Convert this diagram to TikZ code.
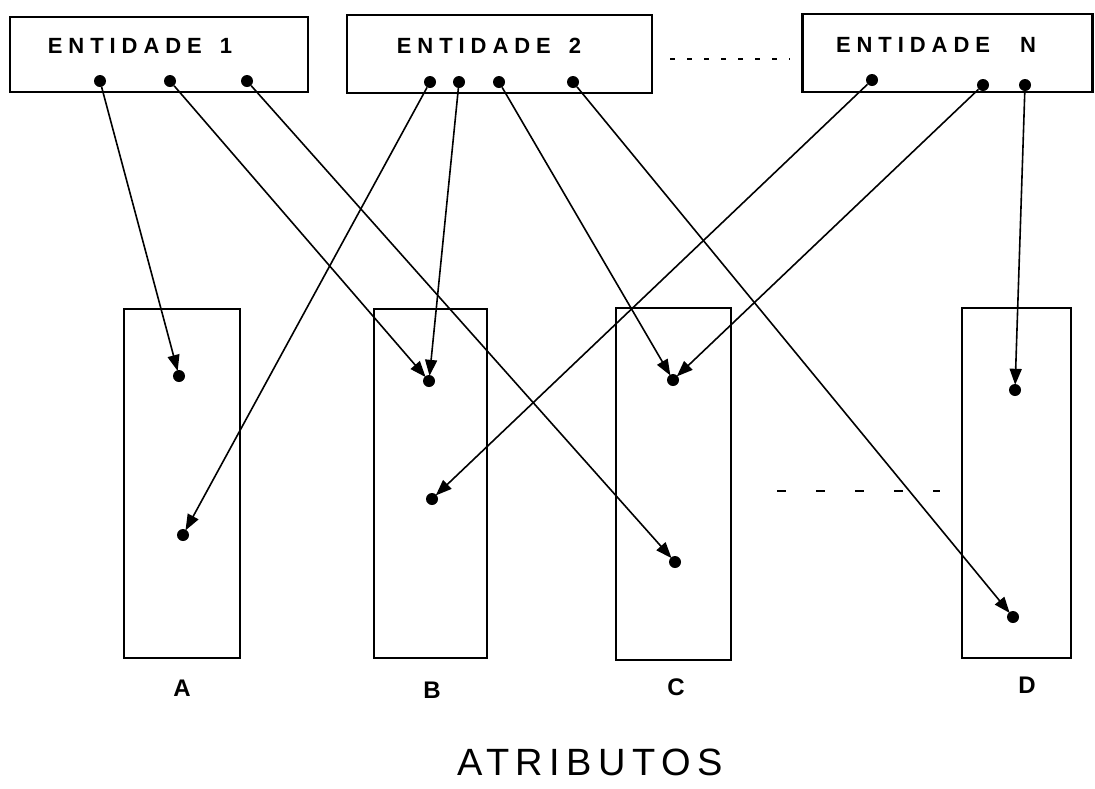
\documentclass[tikz,border=0pt]{standalone}
\usepackage{fontspec}
\usetikzlibrary{arrows.meta}
\newfontfamily\entfont[LetterSpace=27]{Liberation Sans}
\newfontfamily\lblfont{Liberation Sans}
\newfontfamily\titfont[LetterSpace=17]{Liberation Sans}
\tikzset{
  entbox/.style={draw, line width=2.6pt, rectangle, inner sep=0pt},
  attbox/.style={draw, line width=2.6pt, rectangle, inner sep=0pt},
  pt/.style={circle, fill=black, inner sep=0pt, minimum size=12pt},
  enttext/.style={font=\entfont\bfseries\fontsize{22}{22}\selectfont, inner sep=0pt},
  lbl/.style={font=\lblfont\bfseries\fontsize{24}{24}\selectfont, inner sep=0pt},
  link/.style={line width=1.6pt, -{Triangle[length=16pt,width=12pt]}, shorten >=-1pt},
}
\begin{document}
\begin{tikzpicture}[x=1pt,y=-1pt]
\useasboundingbox (0,0) rectangle (1095,788);
% entity boxes
\node[entbox, minimum width=298pt, minimum height=75pt] (E1) at (159,54.5) {};
\node[entbox, minimum width=305pt, minimum height=78pt] (E2) at (499.5,54) {};
\node[entbox, minimum width=290pt, minimum height=78pt] (EN) at (947.5,53) {};
\node[enttext] (t1) at (140,46) {ENTIDADE\hspace{18pt}1};
\node[enttext] (t2) at (489,46) {ENTIDADE\hspace{18pt}2};
\node[enttext] (tN) at (936,45) {ENTIDADE\hspace{30pt}N};
% attribute boxes
\node[attbox, minimum width=116pt, minimum height=349pt] (A) at (182,483.5) {};
\node[attbox, minimum width=113pt, minimum height=349pt] (B) at (430.5,483.5) {};
\node[attbox, minimum width=115pt, minimum height=352pt] (C) at (673.5,484) {};
\node[attbox, minimum width=109pt, minimum height=350pt] (D) at (1016.5,483) {};
% source dots
\node[pt] (e1a) at (100,81) {};
\node[pt] (e1b) at (170,81) {};
\node[pt] (e1c) at (247,81) {};
\node[pt] (e2a) at (430,82) {};
\node[pt] (e2b) at (459,82) {};
\node[pt] (e2c) at (499,82) {};
\node[pt] (e2d) at (573,82) {};
\node[pt] (ena) at (872,80) {};
\node[pt] (enb) at (983,85) {};
\node[pt] (enc) at (1025,85) {};
% target dots
\node[pt] (a1) at (179,376) {};
\node[pt] (a2) at (183,535) {};
\node[pt] (b1) at (429,381) {};
\node[pt] (b2) at (432,499) {};
\node[pt] (c1) at (673,380) {};
\node[pt] (c2) at (675,562) {};
\node[pt] (d1) at (1015,390) {};
\node[pt] (d2) at (1013,617) {};
% connectors
\draw[link] (e1a) -- (a1);
\draw[link] (e1b) -- (b1);
\draw[link] (e1c) -- (c2);
\draw[link] (e2a) -- (a2);
\draw[link] (e2b) -- (b1);
\draw[link] (e2c) -- (c1);
\draw[link] (e2d) -- (d2);
\draw[link] (ena) -- (b2);
\draw[link] (enb) -- (c1);
\draw[link] (enc) -- (d1);
% dashed continuation lines
\coordinate (dt1) at (670,59);
\coordinate (dt2) at (790,59);
\draw[line width=1.4pt, dash pattern=on 5pt off 12pt] (dt1) -- (dt2);
\coordinate (db1) at (777,491);
\coordinate (db2) at (940,491);
\draw[line width=1.4pt, dash pattern=on 9pt off 30pt] (db1) -- (db2);
% labels
\node[lbl] (la) at (182,688) {A};
\node[lbl] (lb) at (432,690) {B};
\node[lbl] (lc) at (676,687) {C};
\node[lbl] (ld) at (1027,685) {D};
\node[font=\titfont\fontsize{38}{38}\selectfont, inner sep=0pt] (tit) at (590,762) {ATRIBUTOS};
\end{tikzpicture}
\end{document}
